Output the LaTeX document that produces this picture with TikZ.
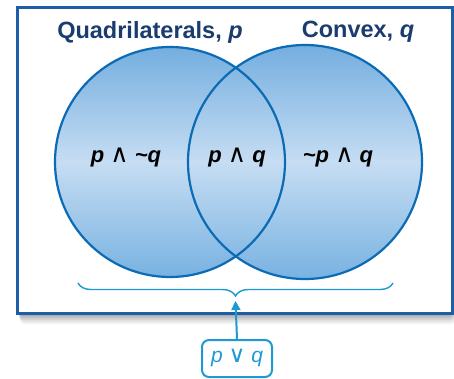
\documentclass[tikz,border=0pt]{standalone}
\usepackage{fontspec}
\setmainfont{Liberation Sans}
\newfontfamily\symfont{DejaVu Sans}
\usetikzlibrary{decorations.pathreplacing,arrows.meta}
\definecolor{framecol}{HTML}{1C5FA8}
\definecolor{circcol}{HTML}{0B6BB4}
\definecolor{shadetop}{HTML}{74AEDF}
\definecolor{shademid}{HTML}{C6DDF3}
\definecolor{shadebot}{HTML}{78B2E1}
\definecolor{labcol}{HTML}{1B3C6E}
\definecolor{lightcol}{HTML}{1E9AD3}
\tikzset{
  frame/.style={draw=framecol, line width=3pt, fill=white, minimum width=435pt, minimum height=306pt, inner sep=0pt},
  circnode/.style={circle, minimum size=#1, inner sep=0pt},
  circshade/.style={top color=shadetop, bottom color=shadebot, middle color=shademid},
  circline/.style={draw=circcol, line width=2.2pt},
  setlabel/.style={text=labcol, font=\fontsize{23.5}{26}\selectfont\bfseries},
  region/.style={text=black, font=\fontsize{22}{24}\selectfont\bfseries\itshape},
  bracestyle/.style={draw=lightcol, line width=1.4pt, decorate, decoration={brace, amplitude=13pt}},
  orbox/.style={draw=lightcol, line width=2pt, rounded corners=7pt, minimum width=70pt, minimum height=37pt, text=lightcol, font=\fontsize{21}{24}\selectfont\itshape},
  arrowline/.style={draw=lightcol, line width=2pt, -{Triangle[length=9pt,width=9pt]}}
}
\newcommand{\wedgesym}{{\symfont\mdseries\upshape\fontsize{25}{26}\selectfont ∧}}
\newcommand{\tld}{\char`\~}
\begin{document}
\begin{tikzpicture}[x=1pt,y=-1pt]
\useasboundingbox (0,0) rectangle (454,378);
% soft shadow
\foreach \d/\o in {11/0.05,9/0.06,7/0.08,5/0.09,3/0.1,1/0.12}{
  \fill[black, opacity=\o, rounded corners=4pt] (17+\d*0.3,7+\d) rectangle (452+\d*0.3,313+\d);
}
\node[frame] (frame) at (234.5,160) {};
% circles
\node[circnode=230pt] (L) at (170,162) {};
\node[circnode=234pt] (R) at (305,162) {};
\shade[circshade] (L.center) circle (115pt);
\shade[circshade] (R.center) circle (117pt);
\draw[circline] (L.center) circle (115pt);
\draw[circline] (R.center) circle (117pt);
% labels
\node[setlabel] (lp) at (150,32) {Quadrilaterals, \textit{p}};
\node[setlabel] (lq) at (358,32) {Convex, \textit{q}};
\node[region] (r1) at (126,158) {p \wedgesym{} \tld{}q};
\node[region] (r2) at (237,158) {p \wedgesym{} q};
\node[region] (r3) at (338,158) {\tld{}p \wedgesym{} q};
% brace
\coordinate (bl) at (78,283);
\coordinate (br) at (393,283);
\draw[bracestyle] (br) -- (bl);
\coordinate (btip) at (235.5,301);
\node[orbox] (pq) at (237,358.5) {p {\symfont\upshape\fontsize{23}{24}\selectfont ∨} q};
\draw[arrowline] (pq.north) -- (btip);
\end{tikzpicture}
\end{document}
